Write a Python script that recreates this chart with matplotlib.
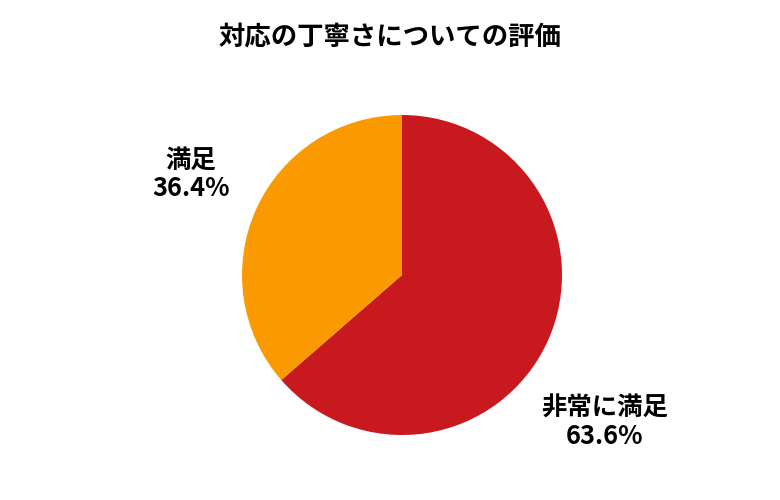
import matplotlib
matplotlib.use("Agg")
import matplotlib.pyplot as plt

plt.rcParams['font.family'] = ['Noto Sans CJK JP', 'DejaVu Sans']

# data
labels = ["非常に満足", "満足"]
shares = [63.6, 36.4]
colors = ["#C8191E", "#FA9A00"]
title = "対応の丁寧さについての評価"

# label placement (axes data units, pie radius = 1)
label_pos = [(1.265, -0.92), (-1.32, 0.63)]

fig = plt.figure(figsize=(7.8, 5.0), dpi=100)
ax = fig.add_axes([(402 - 160) / 780, (500 - 435) / 500, 320 / 780, 320 / 500])

ax.pie(shares, colors=colors, startangle=90, counterclock=False,
       radius=1, wedgeprops=dict(linewidth=0))
ax.set_xlim(-1, 1)
ax.set_ylim(-1, 1)
ax.set_aspect("equal")

for lab, val, (x, y) in zip(labels, shares, label_pos):
    ax.text(x, y, f"{lab}\n{val:.1f}%", ha="center", va="center",
            fontsize=18.3, fontweight="bold", linespacing=1.05, clip_on=False)

fig.text(0.5, 1 - 37 / 500, title, ha="center", va="center",
         fontsize=19, fontweight="bold")

fig.savefig("out.png", dpi=100)
